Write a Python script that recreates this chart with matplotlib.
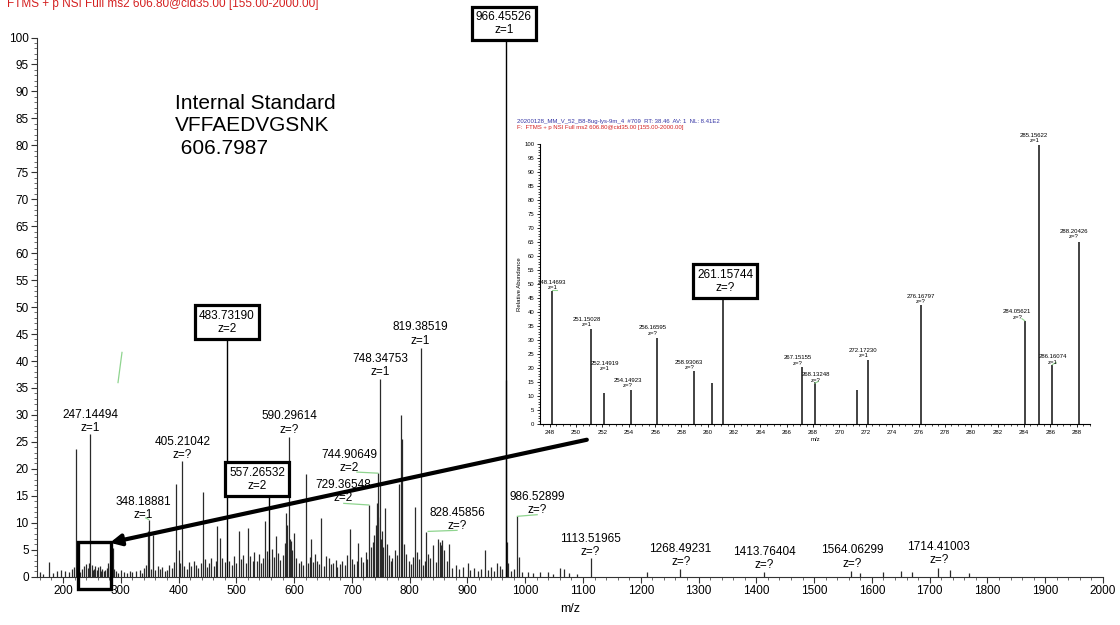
import matplotlib
matplotlib.use("Agg")
import matplotlib.pyplot as plt
from matplotlib.patches import Rectangle
from matplotlib.ticker import MultipleLocator

plt.rcParams['font.family'] = ['Liberation Sans', 'DejaVu Sans']

# ---------------- main MS2 spectrum (relative abundance, %) ----------------
# unlabelled centroid peaks
peak_mz = [160, 166, 175, 183, 190, 196, 203, 210, 215, 219, 222, 225, 229, 233, 237, 240,
           243, 245, 250, 252, 254, 256, 258, 261, 264, 266, 268, 271, 273, 276, 278, 281,
           283, 286, 288, 291, 296, 301, 305, 311, 316, 320, 327, 333, 337, 341, 344, 347.2,
           352, 356.2, 360, 364, 368, 372, 376, 380, 384, 388, 392, 396.2, 400, 402, 410,
           414, 418, 422, 426, 430, 434, 438, 442.2, 445, 449, 453, 457, 461, 464, 466.9,
           472, 476, 480, 488, 492, 496, 500, 504.5, 508, 512, 516, 520, 524, 528, 530.6,
           535, 539, 543, 546, 549, 553, 556, 562, 565, 568, 572, 576, 580, 583.5, 586.6,
           588.5, 592.5, 593.8, 596, 600, 604, 608, 612, 616, 620.8, 624, 627, 630, 633, 636,
           640, 643, 646.5, 652, 656, 660, 664, 668, 672, 675, 679, 683, 688, 692, 696.6, 700,
           704, 708, 711, 716, 720, 724, 727, 733, 736, 739, 741, 743, 746, 750, 752, 754,
           757.5, 760, 764, 767, 770, 775, 778, 782, 785.4, 786.4, 790, 793, 798, 803, 806,
           809, 812, 816, 823, 826, 832, 836, 840, 845, 849.5, 852, 854, 856, 860, 864, 868,
           874, 880, 886, 893, 901, 905, 912, 918, 924, 929.6, 935, 940, 946, 950.8, 956,
           960, 967.46, 968.5, 970.5, 975, 980, 988.5, 995, 1005, 1013, 1025, 1039, 1048,
           1060, 1067, 1075, 1090, 1210, 1580, 1620, 1650, 1670, 1735, 1768]
peak_int = [0.9, 0.5, 2.8, 0.6, 1.0, 1.3, 1.1, 0.8, 1.5, 1.8, 23.6, 2.5, 0.9, 1.4, 2.0, 2.4,
            1.7, 2.6, 2.2, 1.3, 1.5, 1.9, 1.2, 1.8, 2.0, 1.1, 1.4, 1.0, 1.3, 1.7, 2.6, 2.0,
            2.9, 5.3, 1.5, 1.0, 0.7, 1.2, 0.9, 0.6, 1.1, 0.8, 1.0, 1.3, 0.7, 1.6, 2.1, 8.5,
            1.5, 7.8, 1.2, 2.0, 1.4, 1.8, 1.0, 1.3, 2.2, 1.6, 2.7, 17.2, 5.0, 2.5, 2.0,
            1.5, 2.8, 1.9, 3.0, 2.2, 1.7, 2.5, 15.8, 3.2, 1.8, 2.6, 3.4, 2.0, 2.9, 9.4,
            7.2, 3.5, 2.8, 3.0, 2.1, 3.8, 2.6, 8.4, 3.2, 4.0, 2.5, 9.0, 3.8, 2.9, 4.6,
            3.0, 4.2, 2.6, 3.5, 10.3, 4.8, 3.2, 5.2, 3.6, 7.5, 4.4, 3.1, 4.0, 6.3, 11.9,
            9.5, 7.0, 6.6, 5.0, 8.1, 3.4, 2.6, 3.0, 2.2, 19.0, 2.5, 3.6, 6.9, 2.8, 4.2,
            3.0, 2.4, 10.9, 2.0, 3.8, 3.5, 2.3, 2.6, 3.1, 1.8, 2.4, 3.0, 2.2, 4.0, 8.9, 3.2,
            2.4, 3.0, 6.2, 3.6, 2.8, 4.5, 3.3, 5.5, 6.5, 7.8, 9.5, 13.7, 11.0, 7.0, 8.5, 5.5,
            12.8, 6.0, 4.0, 3.0, 3.5, 5.0, 4.0, 17.2, 29.9, 25.5, 6.0, 4.2, 3.0, 2.4, 3.6,
            13.0, 4.5, 3.2, 2.2, 3.0, 4.2, 3.5, 5.9, 2.8, 7.0, 6.5, 5.8, 6.8, 5.0, 3.0, 6.1,
            1.6, 2.2, 1.4, 1.8, 2.5, 1.2, 1.7, 1.0, 1.5, 5.0, 1.2, 1.8, 1.0, 2.6, 2.0,
            1.4, 36.4, 6.4, 2.5, 1.0, 1.5, 3.6, 0.8, 0.9, 0.6, 0.8, 0.9, 0.5,
            1.7, 1.5, 0.6, 0.5, 0.9, 0.7, 0.8, 1.05, 0.9, 1.2, 0.7]

# annotated peaks: m/z, intensity, charge, label centre (m/z, %)
lab_mz = [247.14494, 348.18881, 405.21042, 590.29614, 744.90649, 729.36548, 748.34753,
          819.38519, 828.45856, 986.52899, 1113.51965, 1268.49231, 1413.76404,
          1564.06299, 1714.41003]
lab_int = [26.4, 10.6, 21.4, 25.9, 19.2, 13.3, 36.6, 42.4, 8.3, 11.2, 3.4, 1.4, 0.8, 1.05, 1.7]
lab_z = ['1', '1', '?', '?', '2', '2', '1', '1', '?', '?', '?', '?', '?', '?', '?']
lab_tx = [247.9, 338.6, 406.3, 591.5, 695.3, 684.8, 748.4, 818.8, 881.8, 1020.7, 1112.4,
          1269.0, 1413.8, 1565.5, 1715.9]
lab_ty = [28.8, 12.7, 23.8, 28.5, 21.3, 15.8, 39.1, 45.0, 10.6, 13.6, 5.8, 4.0, 3.3, 3.65, 4.3]

# boxed (highlighted) peaks
box_mz = [483.73190, 557.26532, 966.45526]
box_int = [44.4, 15.6, 100.0]
box_z = ['2', '2', '1']
box_tx = [483.2, 535.8, 963.0]
box_ty = [47.2, 18.1, 102.6]

# ---------------- zoomed inset, m/z 247-289 ----------------
ins_mz = [248.14693, 251.15028, 252.14919, 254.14923, 256.16595, 258.93063, 260.30,
          261.15744, 267.15155, 268.13248, 271.30, 272.17230, 276.16797, 284.05621,
          285.15622, 286.16074, 288.20426]
ins_int = [47.4, 33.8, 11.1, 12.3, 30.8, 18.9, 14.6, 46.0, 20.5, 15.0, 12.2, 22.9, 42.4,
           36.8, 99.6, 20.9, 65.1]
ins_z = ['1', '1', '1', '?', '?', '?', None, '?', '?', '?', None, '1', '?', '?', '1', '1', '?']
ins_tx = [248.2, 250.83, 252.18, 253.9, 255.85, 258.6, None, 261.31, 266.8, 268.2, None,
          271.8, 276.2, 283.5, 284.79, 286.2, 287.8]
ins_ty = [49.7, 36.5, 20.8, 14.7, 33.4, 21.2, None, 51.0, 22.7, 16.6, None, 25.3, 44.6,
          39.1, 102.0, 23.0, 67.9]
ins_boxed = '261.15744'

W, H = 1120, 625
fig = plt.figure(figsize=(W / 100, H / 100), dpi=100)
fig.patch.set_facecolor('white')

ax = fig.add_axes([37 / W, 48.3 / H, (1103 - 37) / W, (576.7 - 37.5) / H])
ax.set_xlim(155, 2000)
ax.set_ylim(0, 100)
for s in ('top', 'right'):
    ax.spines[s].set_visible(False)
for s in ('left', 'bottom'):
    ax.spines[s].set_linewidth(0.8)
    ax.spines[s].set_color('#333333')
ax.xaxis.set_major_locator(MultipleLocator(100))
ax.xaxis.set_minor_locator(MultipleLocator(20))
ax.yaxis.set_major_locator(MultipleLocator(5))
ax.yaxis.set_minor_locator(MultipleLocator(1))
ax.tick_params(which='major', direction='out', length=4, width=0.8, labelsize=8.5,
               color='#333333', pad=2)
ax.tick_params(which='minor', direction='out', length=2.5, width=0.6, color='#555555')
ax.set_xticks(range(200, 2001, 100))
ax.set_xlabel('m/z', fontsize=9, labelpad=4)

GREEN = '#8fd48f'
PEAK = '#2a2a2a'

ax.vlines(peak_mz, 0, peak_int, color=PEAK, lw=0.9)
ax.vlines(lab_mz, 0, lab_int, color=PEAK, lw=0.9)
ax.vlines(box_mz, 0, box_int, color='black', lw=1.0)

for mz, z, tx, ty in zip(lab_mz, lab_z, lab_tx, lab_ty):
    ax.text(tx, ty, f'{mz:.5f}\nz={z}', ha='center', va='center', fontsize=8.5,
            linespacing=1.13, zorder=4)

for mz, z, tx, ty in zip(box_mz, box_z, box_tx, box_ty):
    ax.text(tx, ty, f'{mz:.5f}\nz={z}', ha='center', va='center', fontsize=8.5,
            linespacing=1.13, zorder=6, clip_on=False,
            bbox=dict(boxstyle='square,pad=0.35', fc='white', ec='black', lw=2.3))

# label leader lines
leaders = [([343, 348.2], [10.9, 10.6]), ([708.7, 744.9], [19.4, 19.2]),
           ([686, 729.4], [13.6, 13.3]), ([832, 882], [8.4, 8.6]),
           ([986.5, 1020.7], [11.2, 11.5]), ([295.2, 302.1], [36.0, 41.6])]
for xs, ys in leaders:
    ax.plot(xs, ys, color=GREEN, lw=0.9, zorder=3, clip_on=False)

ax.text(393.8, 89.6, 'Internal Standard\nVFFAEDVGSNK\n 606.7987', fontsize=15,
        linespacing=1.25, va='top', ha='left')

# highlight box around the zoomed region and pointer from the inset
ax.add_patch(Rectangle((225.4, -2.33), 57.6, 8.7, fill=False, lw=2.4, ec='black',
                       clip_on=False, zorder=7))
ax.annotate('', xy=(281.3, 6.3), xytext=(1106.6, 25.4), annotation_clip=False,
            arrowprops=dict(arrowstyle='-|>', lw=3, color='black', mutation_scale=16,
                            shrinkA=0, shrinkB=0), zorder=7)

fig.text(-10 / W, 1 - 4 / H, 'F:  FTMS + p NSI Full ms2 606.80@cid35.00 [155.00-2000.00]',
         color='#d42020', fontsize=8.5, va='center', ha='left')

# ---------------- inset ----------------
ax2 = fig.add_axes([540 / W, (H - 424) / H, 550 / W, 280 / H])
ax2.patch.set_alpha(0)
ax2.set_xlim(247.26, 289.02)
ax2.set_ylim(0, 100)
for s in ('top', 'right'):
    ax2.spines[s].set_visible(False)
for s in ('left', 'bottom'):
    ax2.spines[s].set_linewidth(0.8)
ax2.xaxis.set_major_locator(MultipleLocator(2))
ax2.xaxis.set_minor_locator(MultipleLocator(0.5))
ax2.yaxis.set_major_locator(MultipleLocator(5))
ax2.yaxis.set_minor_locator(MultipleLocator(1))
ax2.tick_params(which='major', direction='out', length=2.5, width=0.6, labelsize=4.3, pad=1.5)
ax2.tick_params(which='minor', direction='out', length=1.5, width=0.5)
ax2.set_xticks(range(248, 289, 2))
ax2.set_xlabel('m/z', fontsize=4.3, labelpad=1.5)
ax2.set_ylabel('Relative Abundance', fontsize=4.3, labelpad=2)

ax2.vlines(ins_mz, 0, ins_int, color='#222222', lw=1.2)
for mz, z, tx, ty in zip(ins_mz, ins_z, ins_tx, ins_ty):
    if z is None:
        continue
    txt = f'{mz:.5f}\nz={z}'
    if f'{mz:.5f}' == ins_boxed:
        ax2.text(tx, ty, txt, ha='center', va='center', fontsize=8.5, linespacing=1.13,
                 zorder=6, bbox=dict(boxstyle='square,pad=0.35', fc='white', ec='black',
                                     lw=2.3))
    else:
        ax2.text(tx, ty, txt, ha='center', va='center', fontsize=4.3, linespacing=1.05,
                 clip_on=False)

ins_leaders = [([248.15, 248.55], [47.9, 47.9]), ([268.13, 268.4], [14.6, 15.2]),
               ([283.85, 284.06], [37.6, 36.9]), ([286.16, 286.45], [21.2, 22.0])]
for xs, ys in ins_leaders:
    ax2.plot(xs, ys, color=GREEN, lw=0.8, clip_on=False)

fig.text(517 / W, 1 - 121 / H,
         '20200128_MM_V_52_B8-8ug-lys-9m_4  #709  RT: 38.46  AV: 1  NL: 8.41E2',
         color='#3535a5', fontsize=4.3, va='center', ha='left')
fig.text(517 / W, 1 - 127.5 / H,
         'F:  FTMS + p NSI Full ms2 606.80@cid35.00 [155.00-2000.00]',
         color='#d42020', fontsize=4.3, va='center', ha='left')

fig.savefig('out.png', dpi=100, facecolor='white')
